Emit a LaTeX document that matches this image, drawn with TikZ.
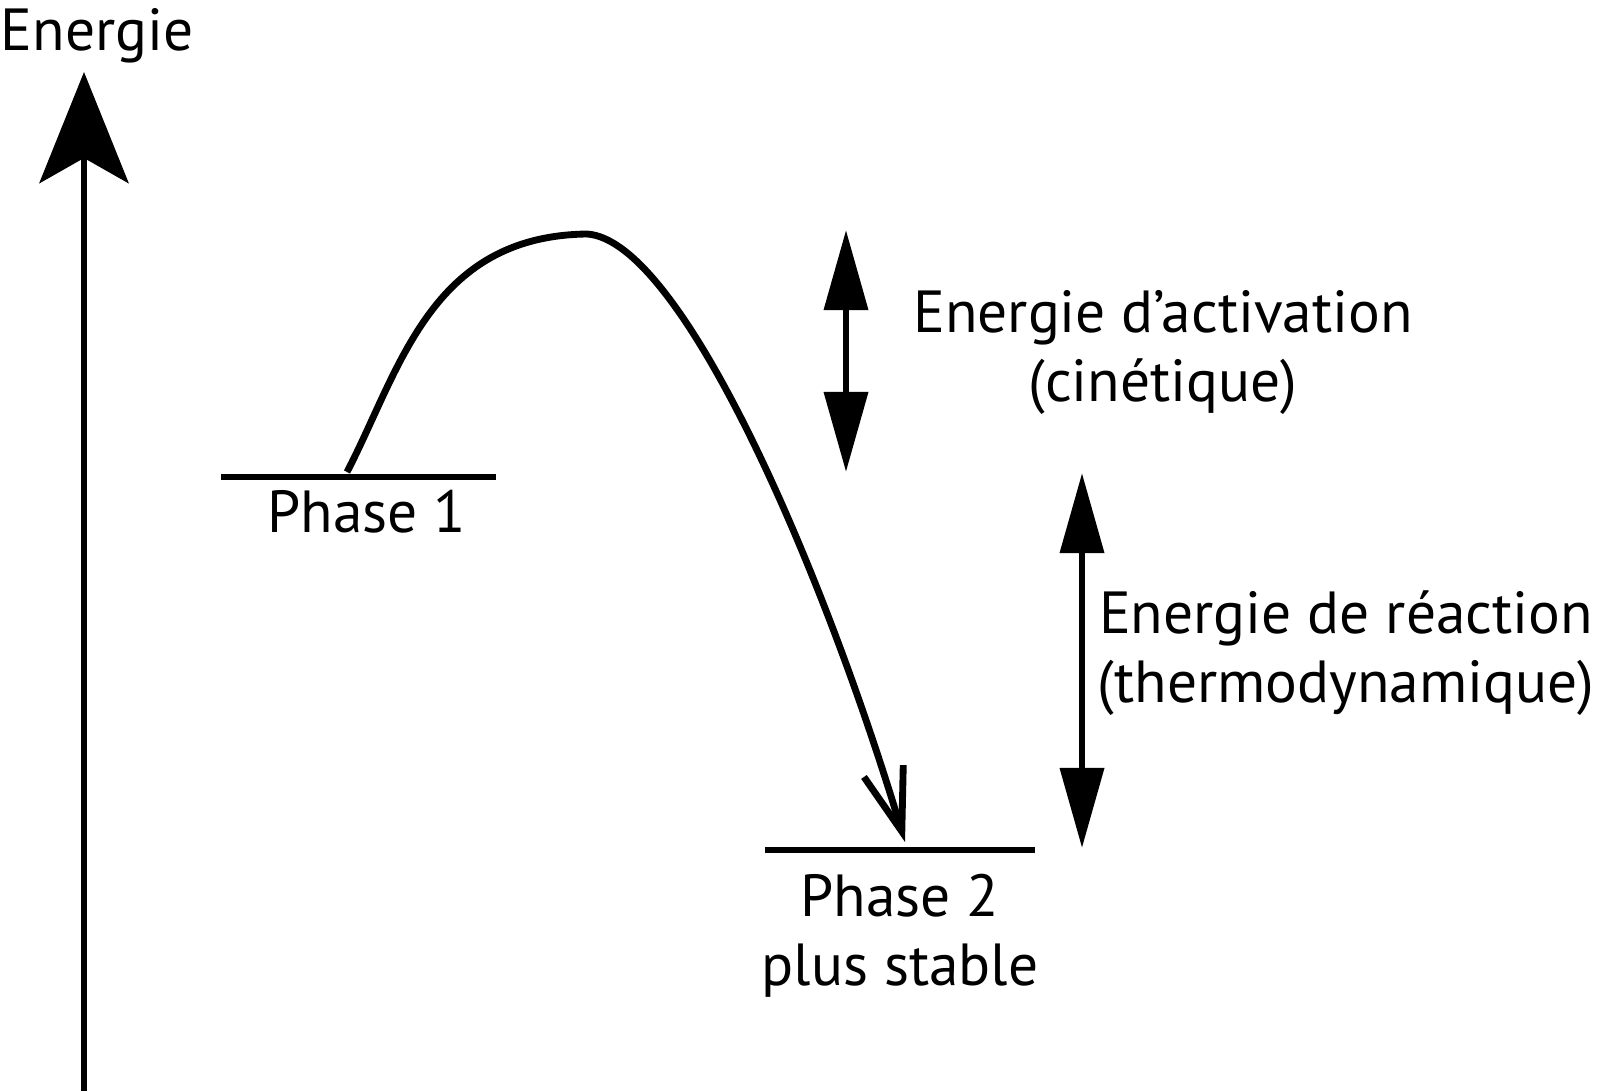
\documentclass[tikz,border=0pt]{standalone}
\usepackage{fontspec}
\setmainfont{PT Sans}
\usetikzlibrary{arrows.meta}
\begin{document}
\begin{tikzpicture}[x=0.01cm, y=-0.01cm,
    trait/.style={line width=1.95pt},
    lbl/.style={font=\fontsize{16.9}{19.4}\selectfont, inner sep=0pt, align=center},
    fleche/.style={trait, {Triangle[length=0.8cm, width=0.43cm]}-{Triangle[length=0.8cm, width=0.43cm]}}]
  \useasboundingbox (0,0) rectangle (1600,1091);
  % axe de l'energie
  \coordinate (axebas) at (84,1091);
  \coordinate (axehaut) at (84,72);
  \draw[trait, -{Stealth[length=1.11cm, width=0.89cm, inset=0.25cm]}] (axebas) -- (axehaut);
  \node[lbl, anchor=base west] (energie) at (0,51) {Energie};
  % niveaux des deux phases
  \coordinate (un-g) at (221,477); \coordinate (un-d) at (496,477);
  \coordinate (deux-g) at (765,850); \coordinate (deux-d) at (1035,850);
  \draw[trait] (un-g) -- (un-d);
  \draw[trait] (deux-g) -- (deux-d);
  \node[lbl, anchor=base] (phaseun) at (367,532) {Phase 1};
  \node[lbl, anchor=base] (phasedeux) at (900,985) {Phase 2\\plus stable};
  % chemin de reaction
  \coordinate (depart) at (347,472);
  \coordinate (sommet) at (587,234);
  \coordinate (arrivee) at (905,842);
  \draw[trait, -{Straight Barb[length=0.63cm, width=0.41cm]}] (depart)
    .. controls (400,370) and (430,236) .. (sommet)
    .. controls (680,240) and (820,560) .. (arrivee);
  % ecarts d'energie
  \coordinate (act-h) at (846,230); \coordinate (act-b) at (846,472);
  \coordinate (reac-h) at (1082,473); \coordinate (reac-b) at (1082,848);
  \draw[fleche] (act-h) -- (act-b);
  \draw[fleche] (reac-h) -- (reac-b);
  \node[lbl, anchor=base] (activation) at (1163,401) {Energie d’activation\\(cinétique)};
  \node[lbl, anchor=base] (reaction) at (1346,702) {Energie de réaction\\(thermodynamique)};
\end{tikzpicture}
\end{document}
